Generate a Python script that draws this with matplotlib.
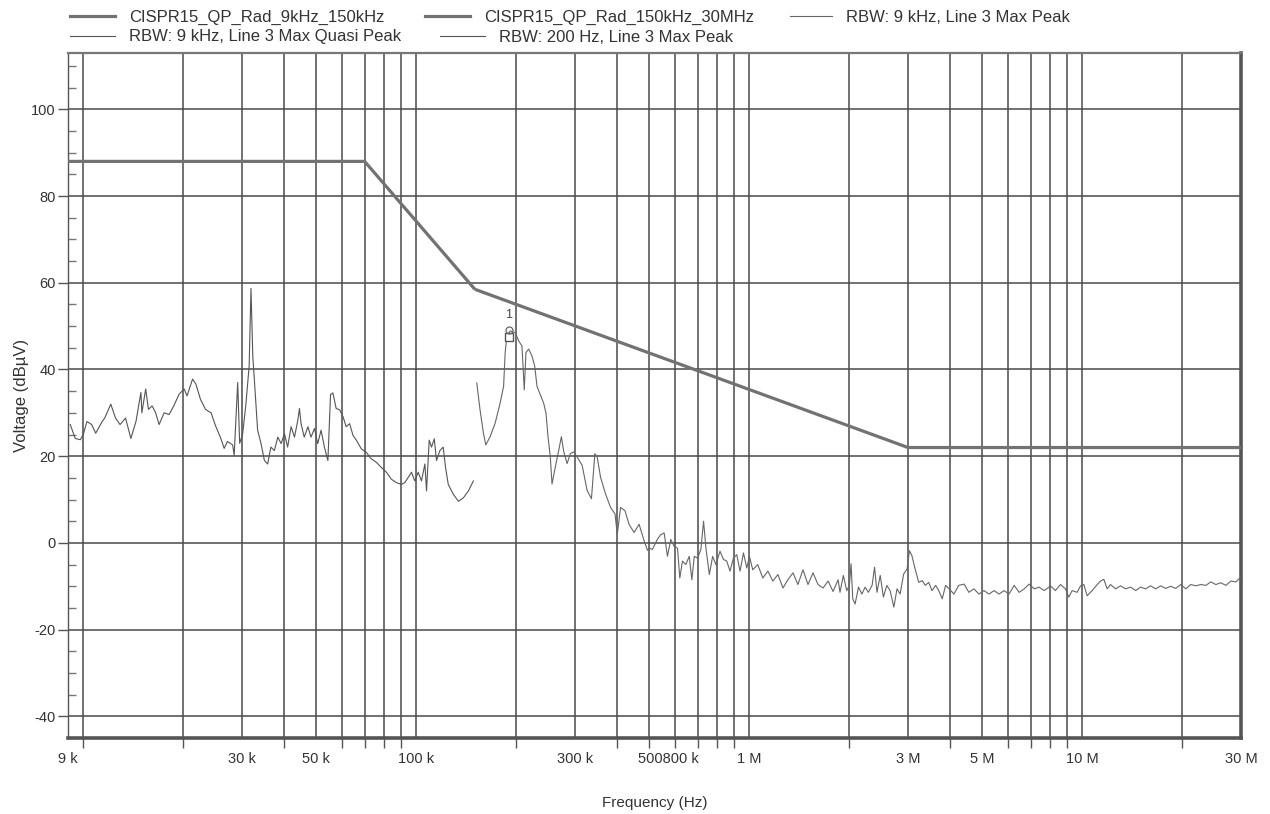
import matplotlib
matplotlib.use("Agg")
import matplotlib.pyplot as plt
import matplotlib.transforms as mtransforms
from matplotlib.lines import Line2D
from matplotlib.ticker import FixedLocator, FixedFormatter, NullFormatter

plt.rcParams['font.family'] = ['Liberation Sans', 'DejaVu Sans']
plt.rcParams['axes.unicode_minus'] = False

# ---------------- data ----------------
lim1_f = [9e3, 70e3, 150e3]
lim1_v = [88, 88, 58.5]
lim2_f = [150e3, 3e6, 30e6]
lim2_v = [58.5, 22, 22]

# RBW 200 Hz, Line 3 Max Peak (frequency in kHz)
pk200_f_khz = [9.14, 9.46, 9.8, 10.0, 10.26, 10.6, 10.9, 11.4, 11.6, 12.1, 12.5, 12.9, 13.4, 13.9,
               14.4, 14.9, 15.0, 15.4, 15.7, 16.1, 16.5, 16.9, 17.5, 18.1, 18.7, 19.4, 20.1, 20.5,
               21.3, 21.8, 22.5, 23.3, 24.2, 25.0, 25.9, 26.5, 27.1, 28.1, 28.4, 29.1, 29.5, 30.1,
               30.8, 31.5, 31.9, 32.3, 32.8, 33.4, 34.2, 35.0, 35.8, 36.6, 37.5, 38.4, 39.3, 40.2,
               41.1, 42.1, 43.1, 44.1, 44.6, 45.1, 46.1, 47.3, 48.3, 49.5, 50.6, 51.8, 53.0, 54.3,
               55.3, 56.2, 57.5, 58.9, 60.3, 61.6, 63.1, 64.6, 66.1, 68.4, 70.8, 73.3, 75.9, 78.6,
               81.4, 84.2, 87.2, 90.3, 92.4, 94.6, 96.8, 99.0, 101.4, 103.7, 106.2, 107.4, 109.4,
               111.2, 113.3, 115.1, 117.8, 120.5, 122.5, 124.8, 129.3, 133.9, 138.6, 143.5, 148.5]
pk200_v = [27.3, 24.1, 23.8, 25.0, 28.0, 27.3, 25.3, 28.0, 28.8, 32.0, 28.8, 27.3, 28.8, 24.1,
           28.0, 34.7, 30.0, 35.5, 30.8, 31.6, 30.0, 27.3, 30.0, 29.6, 31.6, 34.3, 35.5, 33.9,
           37.8, 36.6, 33.1, 30.8, 30.0, 26.9, 24.1, 21.8, 23.4, 22.6, 20.2, 37.0, 23.0, 25.0,
           32.0, 40.8, 58.7, 43.1, 35.3, 26.0, 22.9, 19.0, 18.2, 22.1, 21.3, 24.4, 22.9, 25.2,
           22.1, 26.8, 24.4, 28.3, 31.0, 27.5, 24.4, 26.8, 24.4, 26.4, 22.9, 26.0, 22.1, 19.0,
           34.2, 34.6, 31.0, 30.7, 29.1, 26.8, 27.5, 24.8, 23.7, 21.7, 20.9, 19.4, 18.6, 17.4,
           16.3, 14.7, 13.9, 13.5, 13.9, 15.1, 16.3, 14.3, 16.3, 14.3, 18.2, 12.0, 23.7,
           22.1, 24.0, 19.0, 21.3, 22.1, 17.4, 13.5, 11.2, 9.6, 10.4, 12.0, 14.3]

# RBW 9 kHz, Line 3 Max Peak (frequency in kHz)
pk9k_f_khz = [152, 155.5, 159.2, 161.8, 166.7, 172.6, 178.6, 183.0, 185.0, 187.2, 191.6, 198.4,
              203.1, 207.8, 211.1, 213.6, 217.7, 222.7, 226.9, 230.6, 235.9, 241.5, 245.4, 248.8,
              252.8, 255.8, 261.7, 268.0, 272.9, 277.5, 283.9, 290.5, 297.4, 304.3, 315.0, 326.1,
              336.0, 344.0, 349.6, 357.7, 370.3, 383.4, 395.4, 401.7, 411.0, 423.8, 435.7, 451.1,
              467.1, 483.6, 494.8, 500.5, 512, 530, 542.5, 555.5, 568.3, 581.5, 595.4, 609.2, 619,
              630.5, 645.2, 660.7, 672.8, 684.1, 699.9, 716.1, 729.6, 741.5, 759.2, 776.8, 794.8,
              817.2, 836.7, 856.2, 876, 897, 917.7, 939, 961.4, 983.5, 1002, 1025, 1061, 1099,
              1138, 1178, 1220, 1263, 1307, 1354, 1401, 1451, 1502, 1555, 1610, 1667, 1726, 1786,
              1850, 1874, 1918, 1963, 2000, 2023, 2047, 2080, 2130, 2180, 2230, 2280, 2340, 2380,
              2420, 2475, 2530, 2590, 2650, 2720, 2780, 2840, 2910, 2980, 3030, 3080, 3150, 3230,
              3310, 3380, 3460, 3540, 3630, 3710, 3800, 3890, 3990, 4120, 4260, 4420, 4570, 4730,
              4900, 5070, 5250, 5440, 5630, 5830, 6030, 6250, 6470, 6700, 6930, 7180, 7430, 7690,
              7960, 8030, 8310, 8610, 8910, 9120, 9330, 9660, 9890, 10120, 10350, 10720, 11100,
              11360, 11620, 11890, 12170, 12600, 13050, 13500, 13980, 14480, 14990, 15510, 16060,
              16630, 17220, 17820, 18450, 19100, 19780, 20480, 21200, 21950, 22720, 23520, 24350,
              25200, 26100, 27030, 27980, 28960, 29850]
pk9k_v = [36.9, 30.7, 25.3, 22.6, 24.5, 27.6, 32.2, 36.1, 43.9, 47.8, 48.9, 48.5,
          46.6, 45.4, 35.3, 43.9, 44.7, 43.1, 40.8, 36.1, 34.2, 32.2, 29.9, 24.5,
          19.8, 13.6, 17.5, 21.4, 24.5, 21.0, 18.3, 20.6, 21.0, 19.8, 17.9, 12.1,
          10.2, 20.6, 19.8, 15.2, 11.3, 8.2, 6.7, 2.0, 8.2, 7.4, 4.3, 2.4,
          4.3, 0.5, -1.7, -1.2, -1.5, 0.8, 1.9, 2.3, -3.1, 0.8, -0.8, -1.2, -8.1,
          -4.2, -5.0, -3.1, -8.5, -3.1, -3.5, -1.5, 5.0, -1.2, -7.3, -3.1, -5.0,
          -1.9, -3.8, -4.2, -6.5, -3.5, -2.7, -6.5, -2.3, -5.8, -3.1, -6.2, -5.0, -8.1,
          -6.5, -8.8, -7.3, -10.4, -8.5, -6.9, -9.6, -6.2, -9.6, -6.9, -9.6, -10.4, -8.8, -11.2,
          -8.5, -11.4, -7.5, -11.0, -9.8, -4.8, -12.9, -14.1, -10.2, -11.8, -10.2, -11.4, -9.8, -5.6,
          -11.4, -7.5, -12.5, -9.8, -11.0, -14.8, -10.6, -11.8, -7.2, -6.0, -1.8, -2.9, -6.0, -9.1,
          -8.7, -9.8, -9.1, -11.0, -9.8, -11.0, -12.9, -9.8, -10.6, -11.8, -9.8, -9.5, -11.4, -10.6,
          -11.8, -11.0, -11.8, -11.0, -11.8, -11.0, -11.8, -9.8, -11.4, -10.6, -9.5, -10.6, -10.2, -11.0,
          -10.2, -9.9, -11.0, -9.6, -10.6, -12.5, -11.0, -11.4, -9.9, -9.6, -12.2, -11.0, -9.6,
          -8.8, -8.4, -10.6, -9.6, -10.6, -9.9, -10.6, -10.2, -11.0, -10.2, -10.6, -9.9,
          -10.6, -9.9, -10.5, -10.0, -10.5, -9.6, -10.6, -9.6, -9.9, -9.6, -9.8, -9.0,
          -9.6, -9.2, -9.8, -8.8, -9.0, -8.0]

# RBW 9 kHz, Line 3 Max Quasi Peak (frequency in kHz)
qp_f_khz = [190]
qp_v = [47.5]
qp_marker_labels = ["1"]

legend_labels = ["CISPR15_QP_Rad_9kHz_150kHz", "CISPR15_QP_Rad_150kHz_30MHz",
                 "RBW: 9 kHz, Line 3 Max Peak", "RBW: 9 kHz, Line 3 Max Quasi Peak",
                 "RBW: 200 Hz, Line 3 Max Peak"]

xtick_pos = [9e3, 3e4, 5e4, 1e5, 3e5, 5.7e5, 1e6, 3e6, 5e6, 1e7, 3e7]
xtick_labels = ["9 k", "30 k", "50 k", "100 k", "300 k", "500800 k", "1 M", "3 M", "5 M", "10 M", "30 M"]
ytick_pos = [-40, -20, 0, 20, 40, 60, 80, 100]

# ---------------- figure ----------------
W, H = 1270, 814
fig = plt.figure(figsize=(W / 100, H / 100), dpi=100)
ax = fig.add_axes([68 / W, (H - 738) / H, (1241 - 68) / W, (738 - 53) / H])

lim_color = "#727272"
trace_color = "#555555"

ax.plot(lim1_f, lim1_v, color=lim_color, lw=2.3, solid_capstyle='butt', zorder=4)
ax.plot(lim2_f, lim2_v, color=lim_color, lw=2.3, solid_capstyle='butt', zorder=4)
ax.plot([f * 1e3 for f in pk200_f_khz], pk200_v, color=trace_color, lw=0.8, zorder=3)
ax.plot([f * 1e3 for f in pk9k_f_khz], pk9k_v, color="#666666", lw=0.8, zorder=3)

qp_f = [f * 1e3 for f in qp_f_khz]
ax.plot(qp_f, qp_v, ls='none', marker='s', ms=6, mfc='white', mec='#555555', mew=1.0, zorder=5)
circ_tr = mtransforms.offset_copy(ax.transData, fig=fig, x=0, y=7, units='dots')
ax.plot(qp_f, qp_v, ls='none', marker='o', ms=5, mfc='none', mec='#666666', mew=0.9,
        transform=circ_tr, zorder=5)
for f, v, lab in zip(qp_f, qp_v, qp_marker_labels):
    ax.annotate(lab, xy=(f, v), xytext=(0, 16), textcoords='offset pixels',
                ha='center', va='bottom', fontsize=9, color='#444444')

ax.set_xscale('log')
ax.set_xlim(9e3, 30e6)
ax.set_ylim(-45, 113)

# x ticks: grid on every 1-9 step, labels separately
grid_x = [m * 10 ** e for e in range(4, 8) for m in range(1, 10) if 1e4 <= m * 10 ** e <= 3e7]
ax.xaxis.set_major_locator(FixedLocator(xtick_pos))
ax.xaxis.set_major_formatter(FixedFormatter(xtick_labels))
ax.xaxis.set_minor_locator(FixedLocator(grid_x + [9e3]))
ax.xaxis.set_minor_formatter(NullFormatter())
ax.tick_params(axis='x', which='major', length=0, pad=10, labelsize=10.5, labelcolor='#333333')
ax.tick_params(axis='x', which='minor', length=7, width=1, color='#555555', direction='out')

ax.yaxis.set_major_locator(FixedLocator(ytick_pos))
ax.yaxis.set_minor_locator(FixedLocator([v for v in range(-45, 114, 5) if v % 20 != 0]))
ax.tick_params(axis='y', which='major', length=7, width=1, color='#555555', direction='out',
               labelsize=10.5, labelcolor='#333333', pad=2)
ax.tick_params(axis='y', which='minor', length=6, width=1, color='#777777', direction='in')

for f in grid_x:
    ax.axvline(f, color='#4a4a4a', lw=1.1, zorder=1)
for v in ytick_pos:
    ax.axhline(v, color='#4a4a4a', lw=1.1, zorder=1)

ax.spines['bottom'].set_linewidth(2.6)
ax.spines['bottom'].set_color('#555555')
ax.spines['right'].set_linewidth(2.6)
ax.spines['right'].set_color('#555555')
ax.spines['top'].set_linewidth(1.6)
ax.spines['top'].set_color('#777777')
ax.spines['left'].set_linewidth(1.0)
ax.spines['left'].set_color('#555555')

ax.set_xlabel("Frequency (Hz)", fontsize=11, color='#333333', labelpad=22)
ax.set_ylabel("Voltage (dBµV)", fontsize=12, color='#333333', labelpad=1)

# legend entries, placed individually
handles = [Line2D([], [], color=lim_color, lw=2.3),
           Line2D([], [], color=lim_color, lw=2.3),
           Line2D([], [], color="#666666", lw=0.8),
           Line2D([], [], color=trace_color, lw=0.8),
           Line2D([], [], color=trace_color, lw=0.8)]
leg_pos = [(70, 17), (425, 17), (790, 17), (70, 37), (440, 37)]
leg_hlen = [2.7, 2.7, 2.5, 2.7, 2.7]
for h, lab, (px, py), hl in zip(handles, legend_labels, leg_pos, leg_hlen):
    fig.legend([h], [lab], loc='center left', bbox_to_anchor=(px / W, 1 - py / H),
               frameon=False, fontsize=12, handlelength=hl, handletextpad=0.85,
               borderpad=0, borderaxespad=0, labelcolor='#333333')

fig.savefig("out.png", dpi=100)
